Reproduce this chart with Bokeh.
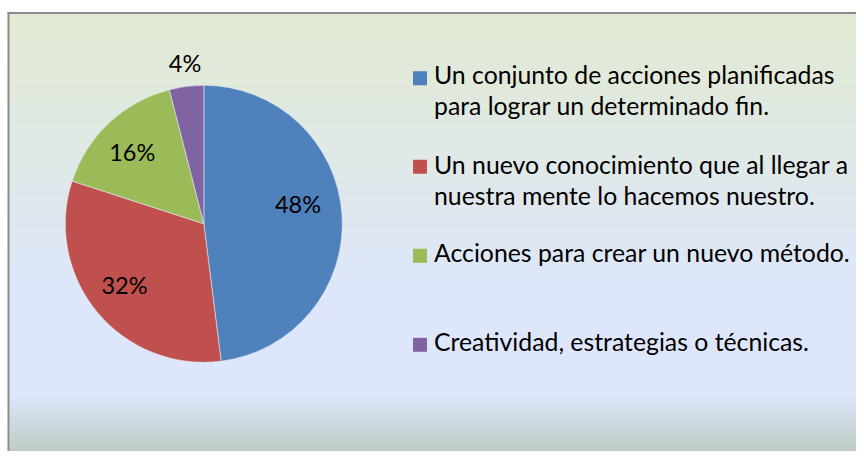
import numpy as np
from bokeh.plotting import figure
from bokeh.models import Range1d, ColumnDataSource
from bokeh.core.properties import value
from bokeh.embed import file_html
from bokeh.resources import INLINE

# ---- data ----
categories = [
    "Un conjunto de acciones planificadas\npara lograr un determinado fin.",
    "Un nuevo conocimiento que al llegar a\nnuestra mente lo hacemos nuestro.",
    "Acciones para crear un nuevo método.",
    "Creatividad, estrategias o técnicas.",
]
percentages = [48, 32, 16, 4]
colors = ["#4F81BD", "#C0504D", "#9BBB59", "#8064A2"]

W, H = 856, 451
def Y(img_y):               # reference y -> plot y
    return H - img_y

FONT = "Lato"
FS_LEG = "24.8px"
FS_LAB = "23.5px"

p = figure(width=W, height=H, output_backend="svg", toolbar_location=None,
           x_range=Range1d(0, W), y_range=Range1d(0, H),
           min_border=0, outline_line_color=None, background_fill_color="white",
           border_fill_color="white")
p.axis.visible = False
p.grid.visible = False

# ---- background gradient ----
def lerp(c1, c2, t):
    return tuple(int(round(a + (b - a) * t)) for a, b in zip(c1, c2))
def hexc(c):
    return "#%02x%02x%02x" % c
top_c, mid_c, bot_c = (216, 228, 195), (211, 222, 251), (160, 183, 166)
ys, cs = [], []
for iy in range(13, H + 1):
    if iy <= 300:
        c = lerp(top_c, mid_c, (iy - 13) / (300 - 13))
    elif iy <= 393:
        c = mid_c
    else:
        c = lerp(mid_c, bot_c, (iy - 393) / (459 - 393))
    ys.append(iy)
    cs.append(hexc(c))
bg = ColumnDataSource(dict(left=[9] * len(ys), right=[W] * len(ys),
                           top=[Y(v) for v in ys], bottom=[Y(v + 1) for v in ys], c=cs))
p.quad(left="left", right="right", top="top", bottom="bottom", fill_color="c",
       line_color=None, source=bg)
# border (top and left)
p.quad(left=[7], right=[W], top=[Y(11.5)], bottom=[Y(13.5)], fill_color="#8a8a8a", line_color=None)
p.quad(left=[7], right=[9], top=[Y(11.5)], bottom=[0], fill_color="#8a8a8a", line_color=None)

# ---- pie ----
cx, cy, r = 203.3, Y(223.3), 138.5
vals = np.array(percentages, dtype=float)
frac = vals / vals.sum()
cum = np.concatenate([[0], np.cumsum(frac)])
start = np.pi / 2 - 2 * np.pi * cum[:-1]
end = np.pi / 2 - 2 * np.pi * cum[1:]
pie = ColumnDataSource(dict(start=start, end=end, color=colors))
p.wedge(x=cx, y=cy, radius=r, start_angle="start", end_angle="end",
        direction="clock", fill_color="color", line_color="#e8eef8",
        line_width=0.8, line_alpha=0.7, source=pie)

# pie labels
label_pos = [(297.5, 203.0), (124.0, 284.5), (131.7, 151.0), (184.5, 62.5)]
p.text(x=[lp[0] for lp in label_pos], y=[Y(lp[1]) for lp in label_pos],
       text=["%d%%" % v for v in percentages], text_align="center",
       text_baseline="middle", text_font=value(FONT), text_font_size=FS_LAB,
       text_color="black")

# ---- legend ----
sq_y = [77.7, 166.3, 255.3, 344.3]
p.rect(x=[419.5] * 4, y=[Y(v) for v in sq_y], width=14, height=14,
       fill_color=colors, line_color=None)
first_mid = [74.0, 163.5, 252.2, 341.2]
tx, ty, tt = [], [], []
for lab, b in zip(categories, first_mid):
    for k, line in enumerate(lab.split("\n")):
        tx.append(433.5)
        ty.append(Y(b + k * 31.3))
        tt.append(line)
p.text(x=tx, y=ty, text=tt, text_align="left", text_baseline="middle",
       text_font=value(FONT), text_font_size=FS_LEG, text_color="black")

open("out.html", "w").write(file_html(p, INLINE))
